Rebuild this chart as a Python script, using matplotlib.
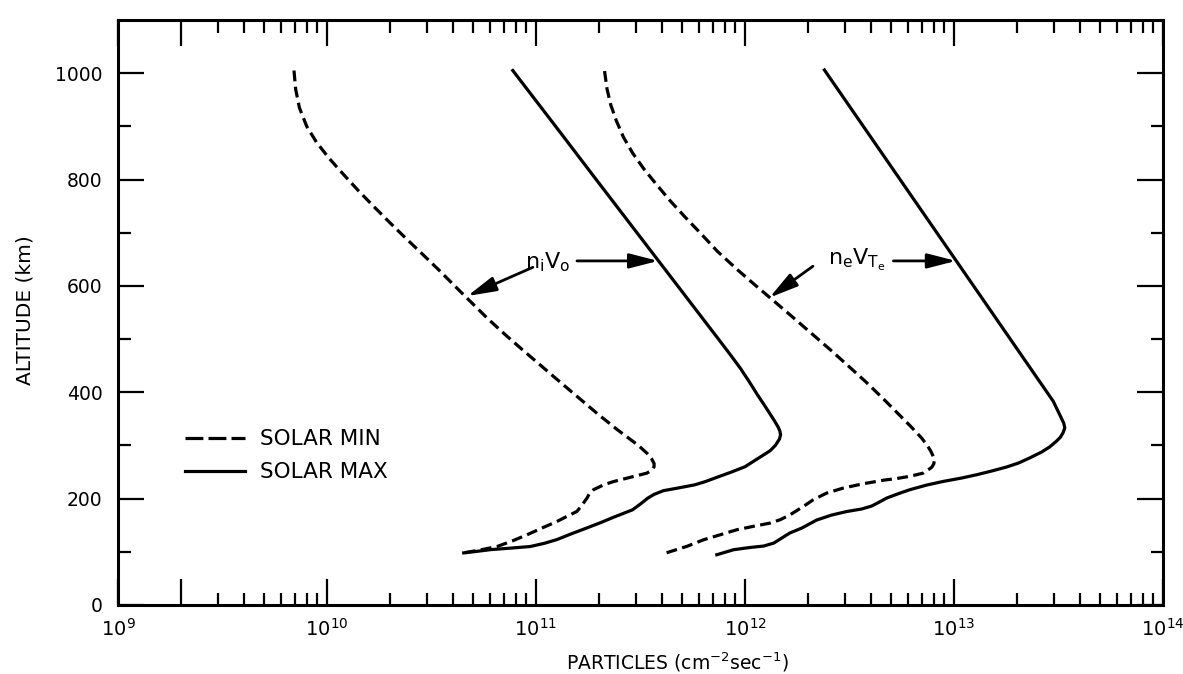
import matplotlib
matplotlib.use("Agg")
import matplotlib.pyplot as plt
from matplotlib.lines import Line2D
import numpy as np

plt.rcParams["font.family"] = ["DejaVu Sans"]
plt.rcParams["mathtext.default"] = "regular"

# log10 of particle flux (cm^-2 sec^-1) against altitude (km)
# n_i V_o, solar minimum
alt_ni_min = [1005, 970, 935, 900, 870, 840, 810, 780, 750, 720, 690, 660, 630,
              600, 570, 540, 510, 480, 450, 420, 390, 360, 330, 300, 285, 275,
              266, 260, 254, 248, 240, 232, 226, 217, 209, 201, 189, 176, 167,
              157, 145, 132, 121, 110, 104, 98]
lg_ni_min = [9.842, 9.850, 9.868, 9.903, 9.950, 10.010, 10.078, 10.148,
             10.222, 10.298, 10.376, 10.456, 10.535, 10.611, 10.688, 10.765,
             10.848, 10.935, 11.024, 11.113, 11.203, 11.293, 11.388, 11.490,
             11.532, 11.553, 11.565, 11.565, 11.555, 11.531, 11.45, 11.37,
             11.324, 11.276, 11.255, 11.244, 11.222, 11.196, 11.15, 11.10,
             11.03, 10.957, 10.89, 10.814, 10.74, 10.654]

# n_i V_o, solar maximum
alt_ni_max = [1005, 900, 800, 700, 600, 500, 470, 445, 420, 395, 375, 358, 345,
              335, 327, 320, 312, 300, 290, 280, 270, 260, 250, 240, 232, 226,
              220, 215, 208, 201, 190, 179, 165, 155, 145, 134, 123, 116, 110,
              107, 104, 101, 98]
lg_ni_max = [10.889, 11.094, 11.288, 11.483, 11.678, 11.873, 11.931, 11.978,
             12.02, 12.06, 12.094, 12.122, 12.143, 12.158, 12.167, 12.17,
             12.165, 12.145, 12.12, 12.08, 12.04, 12.0, 11.935, 11.865, 11.81,
             11.76, 11.68, 11.61, 11.565, 11.535, 11.50, 11.462, 11.371, 11.31,
             11.244, 11.17, 11.10, 11.04, 10.973, 10.88, 10.78, 10.72, 10.654]

# n_e V_Te, solar minimum
alt_ne_min = [1004, 970, 940, 910, 880, 850, 820, 790, 760, 730, 700, 665, 630,
              600, 570, 540, 510, 480, 450, 420, 390, 360, 335, 314, 300, 290,
              280, 274, 265, 258.8, 254.3, 248, 242, 237.8, 235, 228, 220,
              210.5, 198, 185.5, 169.7, 160.3, 154, 148, 141.5, 132, 122.7,
              110.3, 96]
lg_ne_min = [11.328, 11.340, 11.358, 11.385, 11.418, 11.462, 11.516, 11.578,
             11.642, 11.712, 11.785, 11.868, 11.965, 12.053, 12.143, 12.232,
             12.320, 12.408, 12.493, 12.577, 12.656, 12.732, 12.795, 12.845,
             12.872, 12.888, 12.900, 12.907, 12.903, 12.893, 12.877, 12.853,
             12.789, 12.726, 12.668, 12.566, 12.471, 12.391, 12.327, 12.28,
             12.216, 12.168, 12.12, 12.041, 11.961, 11.881, 11.802, 11.722,
             11.607]

# n_e V_Te, solar maximum
alt_ne_max = [1006, 383, 365, 352, 342, 333, 324, 315, 308, 297, 287.6, 276.3,
              267, 259.4, 251.9, 244.9, 238.7, 232.5, 225.5, 216.7, 209.5,
              201.1, 193, 186.1, 180.5, 175.8, 169.2, 159.8, 144.7, 135.3,
              125.9, 116.5, 110.9, 108.1, 103.9, 94.5]
lg_ne_max = [12.38, 13.475, 13.497, 13.513, 13.525, 13.53, 13.522, 13.508,
             13.49, 13.457, 13.419, 13.361, 13.309, 13.251, 13.18, 13.108,
             13.036, 12.95, 12.869, 12.788, 12.735, 12.678, 12.64, 12.606,
             12.558, 12.487, 12.415, 12.343, 12.272, 12.214, 12.176, 12.138,
             12.09, 12.023, 11.945, 11.865]

decade_exps = [9, 10, 11, 12, 13, 14]
alt_ticks = [0, 200, 400, 600, 800, 1000]
alt_minor = [100, 300, 500, 700, 900]

W, H = 1183, 674
fig = plt.figure(figsize=(W / 100, H / 100), dpi=100)
ax = fig.add_axes([118 / W, 1 - 605 / H, (1163 - 118) / W, (605 - 20) / H])

lw = 2.3
dash = (0, (3.4, 1.7))
ax.plot(10 ** np.array(lg_ni_min), alt_ni_min, color="k", lw=lw, ls=dash)
ax.plot(10 ** np.array(lg_ni_max), alt_ni_max, color="k", lw=lw)
ax.plot(10 ** np.array(lg_ne_min), alt_ne_min, color="k", lw=lw, ls=dash)
ax.plot(10 ** np.array(lg_ne_max), alt_ne_max, color="k", lw=lw)

ax.set_xscale("log")
ax.set_xlim(1e9, 1e14)
ax.set_ylim(0, 1100)

# x ticks: decades plus a long tick at 2e9
major_x = [10.0 ** e for e in decade_exps] + [2e9]
major_lbl = [r"$\mathregular{10^{%d}}$" % e for e in decade_exps] + [""]
ax.set_xticks(major_x, major_lbl)
minor_x = [m * 10.0 ** e for e in decade_exps[:-1] for m in range(2, 10)
           if not (e == 9 and m == 2)]
ax.set_xticks(minor_x, minor=True)
ax.xaxis.set_minor_formatter(matplotlib.ticker.NullFormatter())

ax.set_yticks(alt_ticks, [str(v) for v in alt_ticks])
ax.set_yticks(alt_minor, minor=True)

ax.tick_params(which="both", direction="in", top=True, right=True,
               width=1.6, color="k")
ax.tick_params(which="major", length=19)
ax.tick_params(which="minor", length=9)
ax.tick_params(axis="x", which="major", labelsize=14, pad=9)
ax.tick_params(axis="y", which="major", labelsize=13.5, pad=11)
for s in ax.spines.values():
    s.set_linewidth(2.2)

ax.set_xlabel(r"PARTICLES (cm$^{-2}$sec$^{-1}$)", fontsize=13.5)
ax.xaxis.set_label_coords(0.535, -0.078)
ax.set_ylabel("ALTITUDE (km)", fontsize=14.5)
ax.yaxis.set_label_coords(-0.080, 0.504)

handles = [Line2D([], [], color="k", lw=lw, ls=(0, (5.6, 1.6))),
           Line2D([], [], color="k", lw=lw)]
ax.legend(handles, ["SOLAR MIN", "SOLAR MAX"], loc="center left",
          bbox_to_anchor=(0.064, 0.255), frameon=False, fontsize=15.5,
          handlelength=2.8, handletextpad=0.7, labelspacing=0.62,
          borderpad=0, borderaxespad=0)

arrow = dict(arrowstyle="-|>,head_length=1.25,head_width=0.32", color="k",
             lw=2.0, shrinkA=0, shrinkB=0)


def arr(tail, tip):
    ax.annotate("", xy=(10 ** tip[0], tip[1]), xytext=(10 ** tail[0], tail[1]),
                arrowprops=arrow, annotation_clip=False, fontsize=14)


ax.text(10 ** 11.055, 645, r"$n_iV_o$", fontsize=16, ha="center",
        va="center")
arr((10.985, 635), (10.672, 581))
arr((11.196, 647), (11.585, 647))

ax.text(10 ** 12.535, 649, r"$n_eV_{T_e}$", fontsize=16, ha="center",
        va="center")
arr((12.325, 637), (12.117, 578))
arr((12.71, 647), (13.01, 647))

fig.savefig("out.png", dpi=100)
